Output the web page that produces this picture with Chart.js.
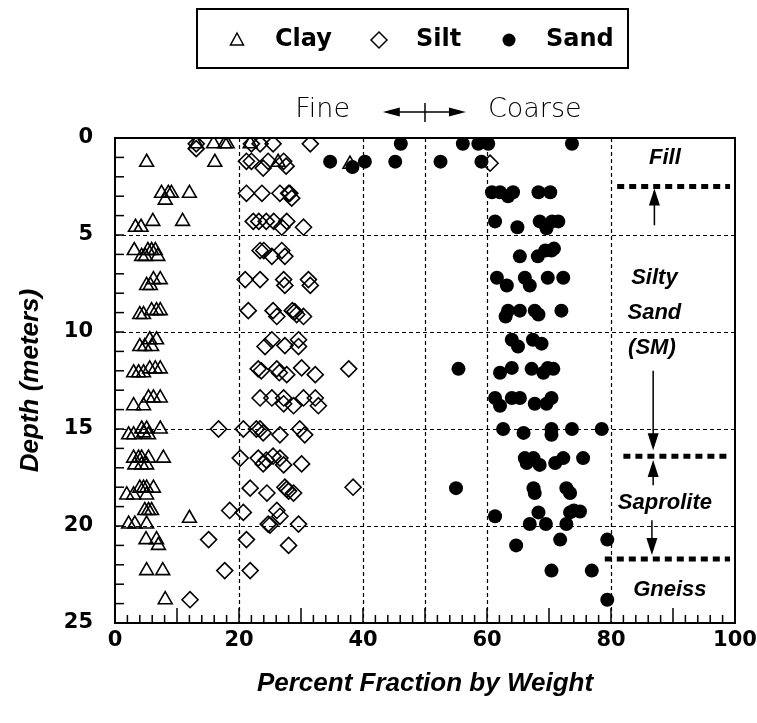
<!DOCTYPE html>
<html>
<head>
<meta charset="utf-8">
<script src="https://cdn.jsdelivr.net/npm/chart.js@4.4.1/dist/chart.umd.min.js"></script>
<style>
  html, body { margin: 0; padding: 0; background: #fff; }
</style>
</head>
<body>
<canvas id="chart" width="757" height="723"></canvas>
<script>
// ---- data: [percent, depth m] ----
const clay = [
  [13.1, 0.3], [15.9, 0.3], [17.7, 0.3], [18.1, 0.3], [21.8, 0.3],
  [5.1, 1.25], [16.1, 1.25], [26.3, 1.25], [37.9, 1.35],
  [7.5, 2.85], [8.1, 3.2], [8.6, 2.85], [9.1, 2.85], [12.0, 2.85],
  [3.3, 4.6], [4.2, 4.6], [6.1, 4.3], [10.9, 4.3],
  [3.1, 5.8], [4.3, 6.1], [4.9, 6.1], [5.3, 5.8], [5.9, 5.8], [6.5, 5.8], [6.9, 6.1],
  [5.1, 7.6], [5.7, 7.6], [6.2, 7.3], [7.3, 7.3],
  [4.0, 9.1], [4.6, 9.1], [5.9, 8.9], [6.7, 8.9], [7.3, 8.9],
  [4.0, 10.75], [4.8, 10.75], [5.9, 10.75], [5.6, 10.4], [6.7, 10.4],
  [3.0, 12.1], [3.8, 12.1], [4.6, 12.1], [5.6, 11.9], [6.5, 11.9], [7.3, 11.9],
  [3.0, 13.8], [4.6, 13.8], [5.4, 13.4], [6.2, 13.4], [7.3, 13.4],
  [2.2, 15.3], [3.0, 15.3], [4.3, 15.0], [4.6, 15.2], [5.1, 15.0], [5.4, 15.3], [7.3, 15.0],
  [3.0, 16.5], [3.8, 16.5], [4.3, 16.5], [5.4, 16.5], [7.8, 16.5], [3.2, 16.85], [4.3, 16.85], [5.1, 16.85],
  [1.9, 18.4], [3.0, 18.4], [4.0, 18.05], [4.6, 18.05], [5.1, 18.05], [6.2, 18.05], [5.1, 18.4],
  [4.8, 19.2], [5.4, 19.2], [5.9, 19.2],
  [2.2, 19.9], [3.2, 19.9], [5.1, 19.9], [12.0, 19.6],
  [5.0, 20.7], [6.7, 20.7], [7.0, 21.0],
  [5.1, 22.3], [7.7, 22.3],
  [8.1, 23.8]
];
const silt = [
  [13.1, 0.3], [13.1, 0.55], [22.0, 0.3], [23.4, 0.3], [25.5, 0.3], [31.5, 0.3],
  [21.2, 1.2], [22.0, 1.2], [23.9, 1.55], [24.7, 1.2], [27.2, 1.2], [27.6, 1.45], [60.5, 1.3],
  [21.2, 2.85], [23.7, 2.85], [26.6, 2.85], [28.0, 2.85], [28.2, 2.85], [28.5, 3.1],
  [22.3, 4.3], [23.2, 4.3], [24.4, 4.3], [25.6, 4.3], [26.9, 4.6], [27.7, 4.3], [30.4, 4.6],
  [23.4, 5.8], [24.0, 5.8], [25.3, 6.1], [26.9, 5.8], [27.4, 6.1],
  [21.0, 7.3], [23.4, 7.3], [27.2, 7.3], [27.4, 7.6], [31.2, 7.3], [31.5, 7.6],
  [21.5, 8.9], [25.5, 8.9], [26.1, 9.2], [28.6, 8.9], [29.0, 8.95], [29.3, 9.1], [30.4, 9.2],
  [24.2, 10.75], [25.3, 10.4], [27.4, 10.7], [29.6, 10.4], [29.6, 10.75],
  [23.1, 11.9], [23.6, 12.0], [26.1, 11.9], [26.5, 12.1], [27.7, 12.2], [30.1, 11.85], [32.3, 12.2], [37.7, 11.9],
  [23.4, 13.4], [25.3, 13.4], [27.2, 13.4], [27.2, 13.7], [28.8, 13.8], [30.4, 13.4], [32.3, 13.4], [32.8, 13.8],
  [16.7, 15.0], [20.7, 15.0], [22.8, 15.0], [23.4, 15.0], [23.9, 15.2], [26.6, 15.3], [29.8, 15.0], [30.6, 15.3],
  [20.2, 16.5], [23.1, 16.5], [23.9, 16.8], [24.4, 16.6], [25.5, 16.4], [26.6, 16.5], [27.2, 16.85], [30.1, 16.8],
  [21.8, 18.05], [24.5, 18.3], [27.4, 18.0], [27.7, 18.1], [28.0, 18.2], [28.8, 18.3], [38.4, 18.0],
  [18.5, 19.2], [20.7, 19.3], [26.1, 19.2], [26.6, 19.5],
  [24.7, 19.9], [25.0, 19.95], [29.6, 19.9],
  [15.1, 20.7], [21.2, 20.7], [28.0, 21.0],
  [17.7, 22.3], [21.8, 22.3],
  [12.1, 23.8]
];
const sand = [
  [46.1, 0.3], [56.1, 0.3], [58.6, 0.3], [60.2, 0.3], [73.7, 0.3],
  [34.7, 1.22], [38.3, 1.5], [40.3, 1.22], [45.2, 1.22], [52.5, 1.22], [59.1, 1.22],
  [60.8, 2.8], [62.1, 2.8], [63.4, 3.0], [64.2, 2.8], [68.3, 2.8], [70.2, 2.8],
  [61.3, 4.3], [64.9, 4.6], [68.5, 4.3], [69.6, 4.65], [70.5, 4.3], [71.5, 4.3],
  [65.3, 6.1], [68.2, 6.1], [69.4, 5.8], [70.4, 5.8], [70.8, 5.7],
  [61.6, 7.2], [63.2, 7.6], [66.1, 7.2], [66.9, 7.6], [69.8, 7.2], [72.3, 7.2],
  [63.0, 9.2], [63.4, 8.9], [65.3, 8.9], [67.7, 8.9], [68.3, 9.1], [72.0, 8.9],
  [64.0, 10.4], [65.0, 10.75], [67.4, 10.4], [68.8, 10.6],
  [55.4, 11.9], [62.1, 12.1], [64.0, 11.85], [67.2, 11.9], [69.1, 12.1], [69.8, 11.85], [70.7, 11.9],
  [61.3, 13.4], [62.1, 13.8], [64.0, 13.4], [65.3, 13.4], [67.7, 13.7], [69.6, 13.7], [70.4, 13.4],
  [62.6, 15.0], [65.9, 15.2], [70.4, 15.0], [70.4, 15.3], [73.7, 15.0], [78.5, 15.0],
  [66.1, 16.5], [67.5, 16.5], [66.4, 16.75], [68.5, 16.85], [71.0, 16.75], [72.3, 16.5], [75.5, 16.5],
  [55.0, 18.05], [67.5, 18.05], [67.7, 18.3], [72.8, 18.05], [73.4, 18.3],
  [61.3, 19.5], [68.3, 19.3], [73.4, 19.3], [74.0, 19.2], [75.0, 19.25],
  [66.9, 19.9], [69.5, 19.9], [72.8, 19.9],
  [64.7, 21.0], [71.8, 20.7], [79.4, 20.7],
  [70.4, 22.3], [76.9, 22.3],
  [79.4, 23.8]
];

const xTicks = [0, 20, 40, 60, 80, 100];
const yTicks = [0, 5, 10, 15, 20, 25];
const xGridLines = [20, 40, 50, 60, 80];
const yGridLines = [5, 10, 15, 20];

// layer boundaries (depth m) and labels on the right
const boundaries = [[81.0, 2.5], [82.0, 16.4], [79.0, 21.7]];   // [start %, depth]
const layerLabels = [
  ['Fill', 88.7, 1.05], ['Silty', 87.0, 7.2], ['Sand', 87.0, 9.0], ['(SM)', 86.6, 10.8],
  ['Saprolite', 88.7, 18.8], ['Gneiss', 89.5, 23.3]
];
const arrows = [   // [x %, from depth, to depth]
  [87.0, 4.5, 2.6], [86.8, 12.0, 16.1], [86.8, 17.9, 16.6], [86.6, 19.7, 21.5]
];

const LABEL_FONT = 'bold italic 22px "Liberation Sans", Arial, sans-serif';

function line(ctx, x1, y1, x2, y2) {
  ctx.beginPath(); ctx.moveTo(x1, y1); ctx.lineTo(x2, y2); ctx.stroke();
}

function arrowHead(ctx, x, y, dx, dy, len, half) {
  // tip at (x,y), direction (dx,dy) unit vector
  ctx.beginPath();
  ctx.moveTo(x, y);
  ctx.lineTo(x - dx * len - dy * half, y - dy * len + dx * half);
  ctx.lineTo(x - dx * len + dy * half, y - dy * len - dx * half);
  ctx.closePath();
  ctx.fill();
}

const overlay = {
  id: 'overlay',
  beforeDatasetsDraw(chart) {
    const { ctx, chartArea: a, scales: { x, y } } = chart;
    ctx.save();
    ctx.strokeStyle = '#000';
    ctx.lineWidth = 1.2;
    ctx.setLineDash([4, 3]);
    xGridLines.forEach(v => {
      const px = Math.round(x.getPixelForValue(v)) + 0.5;
      line(ctx, px, a.top, px, a.bottom);
    });
    yGridLines.forEach(v => {
      const py = Math.round(y.getPixelForValue(v)) + 0.5;
      line(ctx, a.left, py, a.right, py);
    });
    ctx.restore();
  },
  afterDatasetsDraw(chart) {
    const { ctx, chartArea: a, scales: { x, y } } = chart;
    ctx.save();
    ctx.strokeStyle = '#000';
    ctx.fillStyle = '#000';

    // frame
    ctx.lineWidth = 2;
    ctx.strokeRect(a.left, a.top, a.right - a.left, a.bottom - a.top);

    // inward ticks
    ctx.lineWidth = 1.5;
    for (let v = 2; v < 100; v += 2) {
      const px = x.getPixelForValue(v);
      line(ctx, px, a.bottom, px, a.bottom - (v % 10 === 0 ? 15 : 8));
    }
    for (let v = 1; v < 25; v++) {
      const py = y.getPixelForValue(v);
      line(ctx, a.left, py, a.left + 9, py);
    }

    // layer boundaries
    ctx.lineWidth = 5;
    ctx.setLineDash([7, 5]);
    boundaries.forEach(([x0, d]) => {
      const py = y.getPixelForValue(d);
      line(ctx, x.getPixelForValue(x0), py, x.getPixelForValue(99.2), py);
    });
    ctx.setLineDash([]);

    // arrows
    ctx.lineWidth = 1.5;
    arrows.forEach(([xv, d0, d1]) => {
      const px = x.getPixelForValue(xv);
      const y0 = y.getPixelForValue(d0), y1 = y.getPixelForValue(d1);
      const dir = y1 > y0 ? 1 : -1;
      line(ctx, px, y0, px, y1 - dir * 10);
      arrowHead(ctx, px, y1, 0, dir, 17, 5.5);
    });

    // layer labels
    ctx.font = LABEL_FONT;
    ctx.textAlign = 'center';
    ctx.textBaseline = 'middle';
    layerLabels.forEach(([t, xv, d]) => {
      ctx.fillText(t, x.getPixelForValue(xv), y.getPixelForValue(d));
    });

    // Fine <-|-> Coarse
    const midX = x.getPixelForValue(50);
    const ay = a.top - 26;
    ctx.font = '200 27px "DejaVu Sans", sans-serif';
    ctx.fillText('Fine', x.getPixelForValue(33.5), ay - 2);
    ctx.fillText('Coarse', x.getPixelForValue(67.7), ay - 2);
    ctx.lineWidth = 1.5;
    const l0 = x.getPixelForValue(43.2), l1 = x.getPixelForValue(56.6);
    line(ctx, l0 + 8, ay, l1 - 8, ay);
    arrowHead(ctx, l0, ay, -1, 0, 17, 4.5);
    arrowHead(ctx, l1, ay, 1, 0, 17, 4.5);
    line(ctx, midX, ay - 9, midX, ay + 10);

    // legend box
    ctx.lineWidth = 2;
    ctx.strokeRect(197, 9, 431, 59);
    const ly = 40;
    ctx.lineWidth = 1.5;
    ctx.beginPath();
    ctx.moveTo(237, ly - 7); ctx.lineTo(243.5, ly + 5); ctx.lineTo(230.5, ly + 5); ctx.closePath();
    ctx.stroke();
    ctx.beginPath();
    ctx.moveTo(379, ly - 8); ctx.lineTo(387, ly); ctx.lineTo(379, ly + 8); ctx.lineTo(371, ly); ctx.closePath();
    ctx.stroke();
    ctx.beginPath(); ctx.arc(509, ly, 6.5, 0, Math.PI * 2); ctx.fill();
    ctx.font = 'bold 24px "DejaVu Sans", sans-serif';
    ctx.textAlign = 'left';
    ctx.textBaseline = 'middle';
    ctx.fillText('Clay', 275, ly);
    ctx.fillText('Silt', 416, ly);
    ctx.fillText('Sand', 546, ly);

    ctx.restore();
  }
};

const toPts = arr => arr.map(([px, d]) => ({ x: px, y: d }));

new Chart(document.getElementById('chart'), {
  type: 'scatter',
  data: {
    datasets: [
      { label: 'Clay', data: toPts(clay), pointStyle: 'triangle', pointRadius: 8,
        borderColor: '#000', backgroundColor: 'rgba(0,0,0,0)', borderWidth: 1.6, order: 3 },
      { label: 'Silt', data: toPts(silt), pointStyle: 'rectRot', pointRadius: 8,
        borderColor: '#000', backgroundColor: 'rgba(0,0,0,0)', borderWidth: 1.6, order: 2 },
      { label: 'Sand', data: toPts(sand), pointStyle: 'circle', pointRadius: 7,
        borderColor: '#000', backgroundColor: '#000', borderWidth: 0, order: 1 }
    ]
  },
  options: {
    responsive: false,
    animation: false,
    events: [],
    layout: { padding: { top: 138, right: 22, left: 0, bottom: 0 } },
    plugins: { legend: { display: false }, tooltip: { enabled: false } },
    scales: {
      x: {
        type: 'linear', min: 0, max: 100,
        grid: { display: false }, border: { display: false },
        afterBuildTicks: s => { s.ticks = xTicks.map(v => ({ value: v })); },
        afterFit: s => { s.height = 100; },
        ticks: { color: '#000', padding: -3, maxRotation: 0, autoSkip: false,
          font: { family: '"DejaVu Sans"', weight: 'bold', size: 21, lineHeight: 1.2 } },
        title: { display: true, text: 'Percent Fraction by Weight', color: '#000',
          font: { family: '"Liberation Sans"', weight: 'bold', style: 'italic', size: 26, lineHeight: 1.2 },
          padding: { top: 0, bottom: 24 } }
      },
      y: {
        type: 'linear', min: 0, max: 25, reverse: true,
        grid: { display: false }, border: { display: false },
        afterBuildTicks: s => { s.ticks = yTicks.map(v => ({ value: v })); },
        afterFit: s => { s.width = 115; },
        ticks: { color: '#000', padding: 14, autoSkip: false,
          font: { family: '"DejaVu Sans"', weight: 'bold', size: 21, lineHeight: 1.2 } },
        title: { display: true, text: 'Depth (meters)', color: '#000',
          font: { family: '"Liberation Sans"', weight: 'bold', style: 'italic', size: 26, lineHeight: 1.2 },
          padding: { top: 15, bottom: 0 } }
      }
    }
  },
  plugins: [overlay]
});
</script>
</body>
</html>
